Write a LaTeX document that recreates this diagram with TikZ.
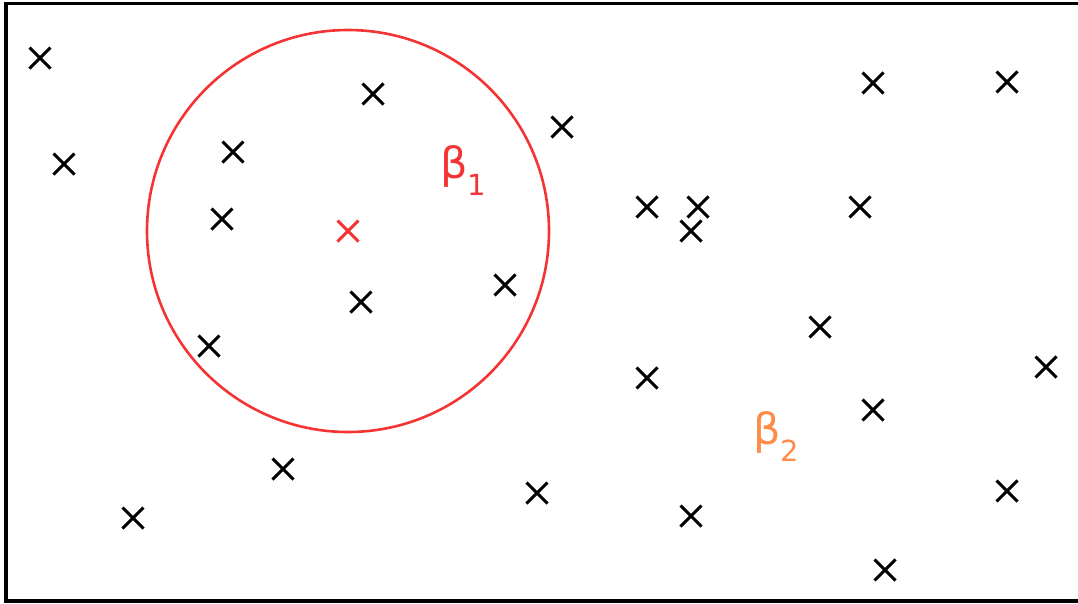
\documentclass[tikz,border=0pt]{standalone}
\usepackage{fontspec}
\setmainfont{DejaVu Sans}
\usetikzlibrary{shapes.misc}
\definecolor{cred}{RGB}{244,52,52}
\definecolor{corange}{RGB}{252,140,72}
\tikzset{
  pt/.style={cross out, draw=black, line width=2.9pt, minimum size=21pt, inner sep=0pt, outer sep=0pt},
  redpt/.style={pt, draw=cred},
  lbl/.style={anchor=base west, inner sep=0pt, font=\fontsize{43}{43}\selectfont},
}
\newcommand{\subnum}[1]{\raisebox{-17pt}{\fontsize{29}{29}\selectfont #1}}
\begin{document}
\begin{tikzpicture}[x=1pt,y=-1pt]
\useasboundingbox (0,0) rectangle (1078,603);
\draw[line width=3.8pt] (1085,3.5) -- (6,3.5) -- (6,601) -- (1085,601);
\node[redpt] (c) at (348,231) {};
\draw[cred, line width=2.6pt] (c.center) circle[radius=201];
\foreach \n/\x/\y in {a/40/58, b/64/164, d/233/152, e/222/219, f/373/94, g/562/127,
  h/361/302, i/505/285, j/209/346, k/647/207, l/698/207, m/691/231, n/860/207,
  o/873/83, p/1007/82, q/820/327, r/647/378, s/1046/367, t/873/410, u/283/469,
  v/133/518, w/537/493, y/691/516, z/1007/491, zz/885/570}
  {\node[pt] (\n) at (\x,\y) {};}
\node[lbl, text=cred] (b1) at (440,178) {β\subnum{1}};
\node[lbl, text=corange] (b2) at (753,444) {β\subnum{2}};
\end{tikzpicture}
\end{document}
